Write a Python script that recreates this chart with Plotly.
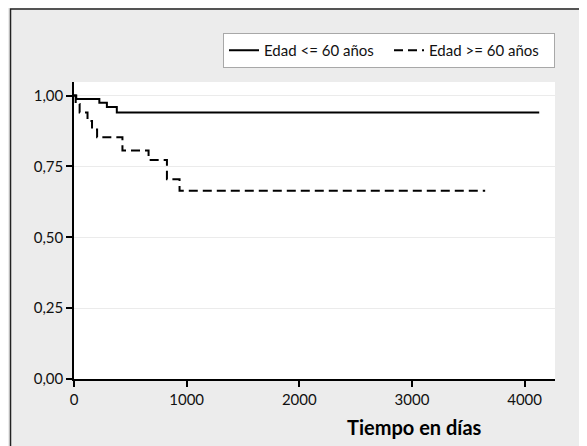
import plotly.graph_objects as go

# Kaplan-Meier style step data (time in days, survival)
t_le60 = [0, 20, 225, 292, 380, 4130]
s_le60 = [1.00, 0.988, 0.975, 0.960, 0.940, 0.940]

t_ge60 = [0, 15, 50, 120, 160, 205, 430, 662, 825, 937, 3650]
s_ge60 = [1.00, 0.970, 0.940, 0.910, 0.880, 0.853, 0.806, 0.773, 0.705, 0.664, 0.664]

x_ticks = [0, 1000, 2000, 3000, 4000]
y_ticks = [0, 0.25, 0.5, 0.75, 1.0]

names = ["Edad <= 60 años", "Edad >= 60 años"]

FONT = "Lato"

fig = go.Figure()
fig.add_trace(go.Scatter(x=t_le60, y=s_le60, mode="lines", line_shape="hv",
                         name=names[0], line=dict(color="black", width=2)))
fig.add_trace(go.Scatter(x=t_ge60, y=s_ge60, mode="lines", line_shape="hv",
                         name=names[1], line=dict(color="black", width=2, dash="9px,5px")))

fig.update_layout(
    width=587, height=446,
    margin=dict(l=66, r=40, t=74, b=75),
    paper_bgcolor="#ECECEC",
    plot_bgcolor="white",
    separators=",.",
    font=dict(family=FONT, size=15, color="#111"),
    showlegend=True,
    legend=dict(orientation="h", x=1, xanchor="right", y=1.165, yanchor="top",
                bgcolor="white", bordercolor="#A8A8A8", borderwidth=1,
                itemwidth=30, entrywidth=120, tracegroupgap=0,
                font=dict(size=15, family=FONT)),
    xaxis=dict(range=[0, 4270], tickvals=x_ticks, showgrid=False, zeroline=False,
               showline=True, linecolor="black", linewidth=1.5,
               ticks="outside", ticklen=6, tickcolor="black", tickwidth=1.5,
               tickfont=dict(size=15)),
    yaxis=dict(range=[0, 1.048], tickvals=y_ticks, tickformat=".2f",
               showgrid=True, gridcolor="#EBEBEB", gridwidth=1, zeroline=False,
               showline=True, linecolor="black", linewidth=1.5,
               ticks="outside", ticklen=6, tickcolor="black", tickwidth=1.5,
               tickfont=dict(size=15)),
    annotations=[dict(text="<b>Tiempo en días</b>", xref="paper", yref="paper",
                      x=0.7085, y=-0.162, xanchor="center", yanchor="middle",
                      showarrow=False, font=dict(size=20, family=FONT, color="black"))],
    shapes=[dict(type="rect", xref="paper", yref="paper",
                 x0=-0.132, x1=1.3, y0=-0.4, y1=1.246,
                 line=dict(color="#222", width=1.5), layer="below")],
)

fig.write_html("out.html")
